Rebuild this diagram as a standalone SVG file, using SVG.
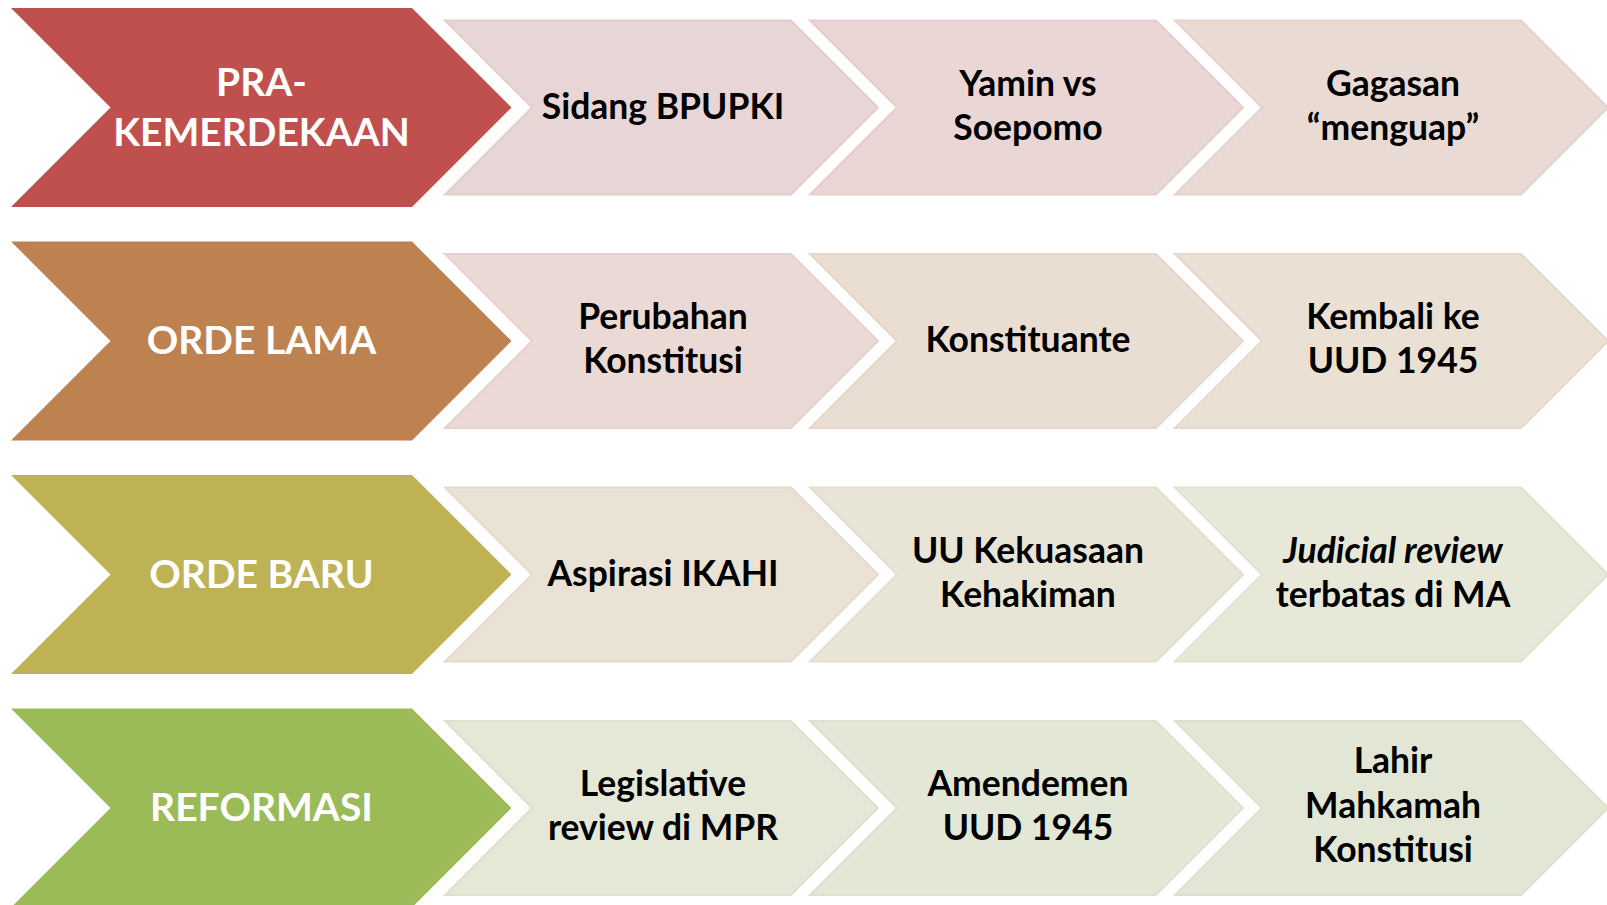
<svg xmlns="http://www.w3.org/2000/svg" width="1607" height="905" viewBox="0 0 1607 905">
<style>
.main{stroke:none}
.lt{stroke-width:2}
.mt{font-family:Lato,"Liberation Sans",sans-serif;font-weight:700;font-size:39px;fill:#fff;text-anchor:middle}
.st{font-family:Lato,"Liberation Sans",sans-serif;font-weight:700;font-size:35.5px;fill:#000;text-anchor:middle}
.it{font-style:italic}
</style>
<defs>
<path id="big" d="M11,-99.5 L412,-99.5 L511.5,0 L412,99.5 L11,99.5 L110.5,0 Z"/>
<path id="sm" d="M445,-87 L791,-87 L878,0 L791,87 L445,87 L532,0 Z"/>
</defs>
<rect width="1607" height="905" fill="#fff"/>
<g id="connectors"/>

<!-- Row 1 -->
<g id="row1-main" transform="translate(0,107.5)">
<use href="#big" fill="#C0504D"/>
<text class="mt" x="261.5" y="-11.5">PRA-</text>
<text class="mt" x="261.5" y="38.5">KEMERDEKAAN</text>
</g>
<g id="row1-a" transform="translate(0,107.5)">
<use href="#sm" class="lt" fill="#E8D5D5" stroke="#E4CDCD"/>
<text class="st" x="663" y="11">Sidang BPUPKI</text>
</g>
<g id="row1-b" transform="translate(365,107.5)">
<use href="#sm" class="lt" fill="#E9D6D5" stroke="#E5CECD"/>
<text class="st" x="663" y="-12">Yamin vs</text>
<text class="st" x="663" y="32">Soepomo</text>
</g>
<g id="row1-c" transform="translate(730,107.5)">
<use href="#sm" class="lt" fill="#EADAD4" stroke="#E6D2CC"/>
<text class="st" x="663" y="-12">Gagasan</text>
<text class="st" x="663" y="32">“menguap”</text>
</g>

<!-- Row 2 -->
<g id="row2-main" transform="translate(0,341)">
<use href="#big" fill="#BE8251"/>
<text class="mt" x="261.5" y="13">ORDE LAMA</text>
</g>
<g id="row2-a" transform="translate(0,341)">
<use href="#sm" class="lt" fill="#EAD9D4" stroke="#E6D1CC"/>
<text class="st" x="663" y="-12">Perubahan</text>
<text class="st" x="663" y="32">Konstitusi</text>
</g>
<g id="row2-b" transform="translate(365,341)">
<use href="#sm" class="lt" fill="#EADED3" stroke="#E6D6CB"/>
<text class="st" x="663" y="11">Konstituante</text>
</g>
<g id="row2-c" transform="translate(730,341)">
<use href="#sm" class="lt" fill="#EAE0D4" stroke="#E6D8CC"/>
<text class="st" x="663" y="-12">Kembali ke</text>
<text class="st" x="663" y="32">UUD 1945</text>
</g>

<!-- Row 3 -->
<g id="row3-main" transform="translate(0,574.5)">
<use href="#big" fill="#BDB255"/>
<text class="mt" x="261.5" y="13">ORDE BARU</text>
</g>
<g id="row3-a" transform="translate(0,574.5)">
<use href="#sm" class="lt" fill="#EAE2D4" stroke="#E6DACC"/>
<text class="st" x="663" y="11">Aspirasi IKAHI</text>
</g>
<g id="row3-b" transform="translate(365,574.5)">
<use href="#sm" class="lt" fill="#E9E5D6" stroke="#E5DDCE"/>
<text class="st" x="663" y="-12">UU Kekuasaan</text>
<text class="st" x="663" y="32">Kehakiman</text>
</g>
<g id="row3-c" transform="translate(730,574.5)">
<use href="#sm" class="lt" fill="#E7E8D8" stroke="#E1E2D0"/>
<text class="st it" x="663" y="-12">Judicial review</text>
<text class="st" x="663" y="32">terbatas di MA</text>
</g>

<!-- Row 4 -->
<g id="row4-main" transform="translate(0,808)">
<use href="#big" fill="#9BBB59"/>
<text class="mt" x="261.5" y="13">REFORMASI</text>
</g>
<g id="row4-a" transform="translate(0,808)">
<use href="#sm" class="lt" fill="#E5E7D7" stroke="#DFE1CF"/>
<text class="st" x="663" y="-12">Legislative</text>
<text class="st" x="663" y="32">review di MPR</text>
</g>
<g id="row4-b" transform="translate(365,808)">
<use href="#sm" class="lt" fill="#E3E7D6" stroke="#DDE1CE"/>
<text class="st" x="663" y="-12">Amendemen</text>
<text class="st" x="663" y="32">UUD 1945</text>
</g>
<g id="row4-c" transform="translate(730,808)">
<use href="#sm" class="lt" fill="#E1E7D4" stroke="#DBE1CC"/>
<text class="st" x="663" y="-35">Lahir</text>
<text class="st" x="663" y="10">Mahkamah</text>
<text class="st" x="663" y="54">Konstitusi</text>
</g>
</svg>
